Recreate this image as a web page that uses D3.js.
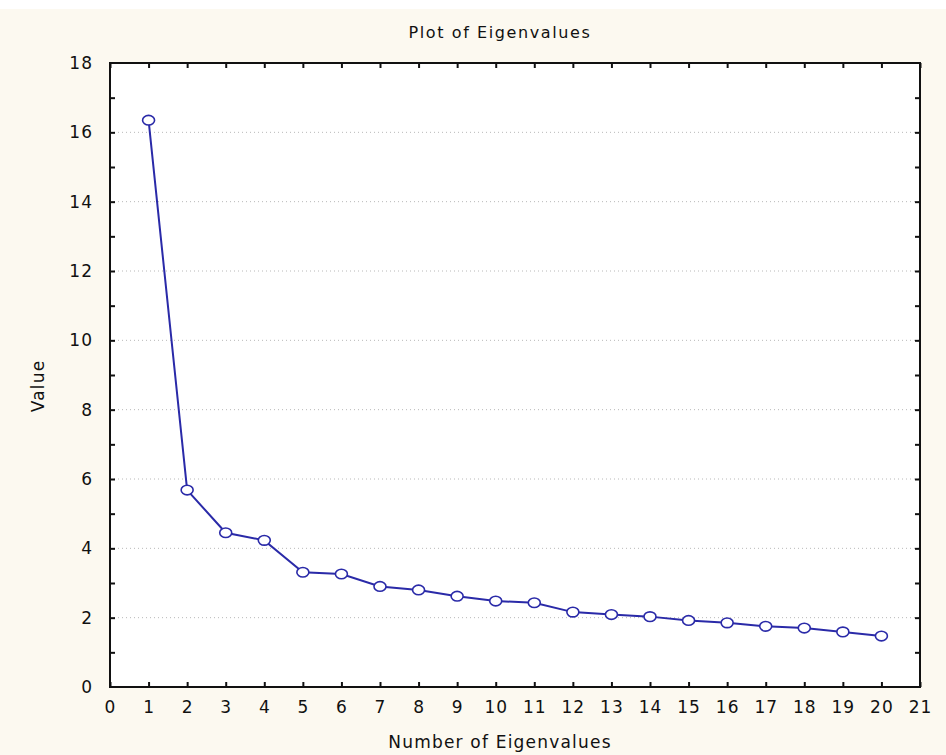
<!DOCTYPE html>
<html>
<head>
<meta charset="utf-8">
<script src="https://cdn.jsdelivr.net/npm/d3@7"></script>
<style>
  body { margin: 0; background: #fcf9f0; }
  #chart { width: 946px; height: 755px; }
  text { font-family: "DejaVu Sans", Verdana, sans-serif; fill: #111; }
</style>
</head>
<body>
<div id="chart"></div>
<script>
// eigenvalue numbers and values
var eigenNumbers = [1, 2, 3, 4, 5, 6, 7, 8, 9, 10, 11, 12, 13, 14, 15, 16, 17, 18, 19, 20];
var eigenValues = [16.35, 5.68, 4.45, 4.23, 3.31, 3.26, 2.90, 2.80, 2.62, 2.48, 2.43, 2.16, 2.09, 2.03, 1.92, 1.85, 1.75, 1.70, 1.59, 1.47];
var xTicks = d3.range(0, 22);
var yTicks = [0, 2, 4, 6, 8, 10, 12, 14, 16, 18];
var gridValues = [2, 4, 6, 8, 10, 12, 14, 16];

var data = eigenNumbers.map(function(n, i) { return {n: n, v: eigenValues[i]}; });

// setting the dimensions
var W = 946, H = 755;
var margin = {top: 63, right: 26, bottom: 68, left: 110};
var width = W - margin.left - margin.right,
    height = H - margin.top - margin.bottom;

var root = d3.select("#chart").append("svg")
    .attr("width", W)
    .attr("height", H);

// white strip across the top
root.append("rect")
    .attr("width", W).attr("height", 9)
    .attr("fill", "#ffffff");

var svg = root.append("g")
    .attr("transform", "translate(" + margin.left + "," + margin.top + ")");

// plot area
svg.append("rect")
    .attr("width", width).attr("height", height)
    .attr("fill", "#ffffff");

var x = d3.scaleLinear().domain([0, 21]).range([0, width]);
var y = d3.scaleLinear().domain([0, 18]).range([height, 0]);

// dotted gridlines
svg.append("g").selectAll("line")
    .data(gridValues)
  .enter().append("line")
    .attr("x1", 0).attr("x2", width)
    .attr("y1", function(d) { return y(d); })
    .attr("y2", function(d) { return y(d); })
    .attr("stroke", "#b8b8b8")
    .attr("stroke-width", 1)
    .attr("stroke-dasharray", "1,3");

// axes with inward ticks
svg.append("g")
    .attr("transform", "translate(0," + height + ")")
    .call(d3.axisBottom(x).tickValues(xTicks).tickFormat(d3.format("d")).tickSizeInner(-5).tickSizeOuter(0).tickPadding(14));
svg.append("g")
    .call(d3.axisTop(x).tickValues(xTicks).tickSizeInner(-5).tickSizeOuter(0).tickFormat(""));
svg.append("g")
    .call(d3.axisLeft(y).tickValues(yTicks).tickSizeInner(0).tickSizeOuter(0).tickPadding(17));
svg.append("g")
    .call(d3.axisLeft(y).tickValues(d3.range(1, 18)).tickSizeInner(-5).tickSizeOuter(0).tickFormat(""));
svg.append("g")
    .attr("transform", "translate(" + width + ",0)")
    .call(d3.axisRight(y).tickValues(d3.range(1, 18)).tickSizeInner(-5).tickSizeOuter(0).tickFormat(""));

svg.selectAll(".domain").remove();
svg.selectAll(".tick line").attr("stroke", "#111").attr("stroke-width", 2);
svg.selectAll(".tick text")
    .attr("font-size", "17px")
    .attr("font-family", "DejaVu Sans, Verdana, sans-serif")
    .attr("letter-spacing", "1px")
    .attr("fill", "#111");

// frame
svg.append("rect")
    .attr("width", width).attr("height", height)
    .attr("fill", "none")
    .attr("stroke", "#111")
    .attr("stroke-width", 2);

// the line
svg.append("path")
    .datum(data)
    .attr("d", d3.line()
      .x(function(d) { return x(d.n); })
      .y(function(d) { return y(d.v); }))
    .attr("fill", "none")
    .attr("stroke", "#2a2aa8")
    .attr("stroke-width", 2);

// markers
svg.append("g").selectAll("ellipse")
    .data(data)
  .enter().append("ellipse")
    .attr("cx", function(d) { return x(d.n); })
    .attr("cy", function(d) { return y(d.v); })
    .attr("rx", 6).attr("ry", 4.8)
    .attr("fill", "#ffffff")
    .attr("stroke", "#2a2aa8")
    .attr("stroke-width", 1.6);

// title and labels
root.append("text")
    .attr("x", 500).attr("y", 38)
    .attr("text-anchor", "middle")
    .attr("font-size", "16px")
    .attr("letter-spacing", "1.6px")
    .text("Plot of Eigenvalues");

root.append("text")
    .attr("x", 500).attr("y", 748)
    .attr("text-anchor", "middle")
    .attr("font-size", "17px")
    .attr("letter-spacing", "1.2px")
    .text("Number of Eigenvalues");

root.append("text")
    .attr("transform", "translate(44,386) rotate(-90)")
    .attr("text-anchor", "middle")
    .attr("font-size", "17px")
    .attr("letter-spacing", "1.2px")
    .text("Value");
</script>
</body>
</html>
